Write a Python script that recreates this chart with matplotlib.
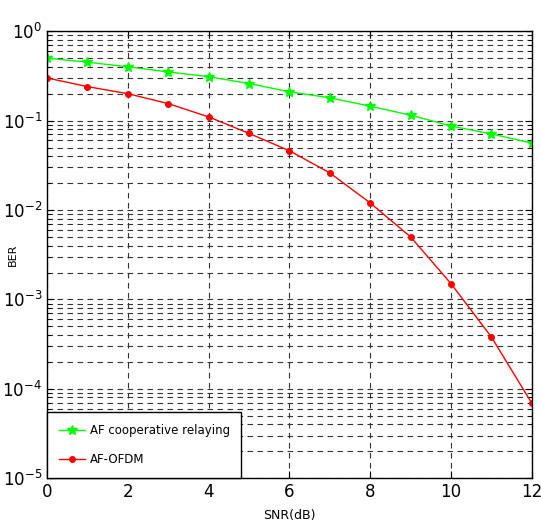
import numpy as np
import matplotlib
matplotlib.use("Agg")
import matplotlib.pyplot as plt

snr_db = [0, 1, 2, 3, 4, 5, 6, 7, 8, 9, 10, 11, 12]
ber_coop = [0.50, 0.45, 0.40, 0.35, 0.31, 0.26, 0.21, 0.18, 0.145, 0.115, 0.087, 0.071, 0.056]
ber_ofdm = [0.30, 0.24, 0.20, 0.155, 0.11, 0.072, 0.046, 0.026, 0.012, 0.005, 0.0015, 3.8e-4, 6.9e-5]
x_ticks = [0, 2, 4, 6, 8, 10, 12]

fig = plt.figure(figsize=(5.41, 5.29), dpi=100)
ax = fig.add_axes([0.087, 0.096, 0.896, 0.845])

ax.semilogy(snr_db, ber_coop, color="#00ff00", marker="*", markersize=7, linewidth=1,
            label="AF cooperative relaying")
ax.semilogy(snr_db, ber_ofdm, color="red", marker=".", markersize=8, linewidth=1,
            label="AF-OFDM")

ax.set_xlim(0, 12)
ax.set_ylim(1e-5, 1)
ax.set_xticks(x_ticks)
ax.grid(True, which="major", axis="x", linestyle=(0, (5, 4)), color="#333333", linewidth=0.8)
ax.grid(True, which="both", axis="y", linestyle=(0, (5, 4)), color="#333333", linewidth=0.8)
ax.tick_params(which="both", direction="in", top=True, right=True, labelsize=12)
ax.tick_params(which="major", length=5)
ax.tick_params(which="minor", length=3)
for s in ax.spines.values():
    s.set_linewidth(1)

ax.set_xlabel("SNR(dB)", fontsize=9)
ax.xaxis.set_label_coords(0.5, -0.068)
ax.set_ylabel("BER", fontsize=8)
ax.yaxis.set_label_coords(-0.06, 0.5)

leg = ax.legend(loc="lower left", fancybox=False, edgecolor="black", framealpha=1,
                fontsize=8.5, borderaxespad=0, handlelength=2.2,
                borderpad=1.0, labelspacing=1.4, handletextpad=0.4)
leg.get_frame().set_linewidth(1)

fig.savefig("out.png", dpi=100)
